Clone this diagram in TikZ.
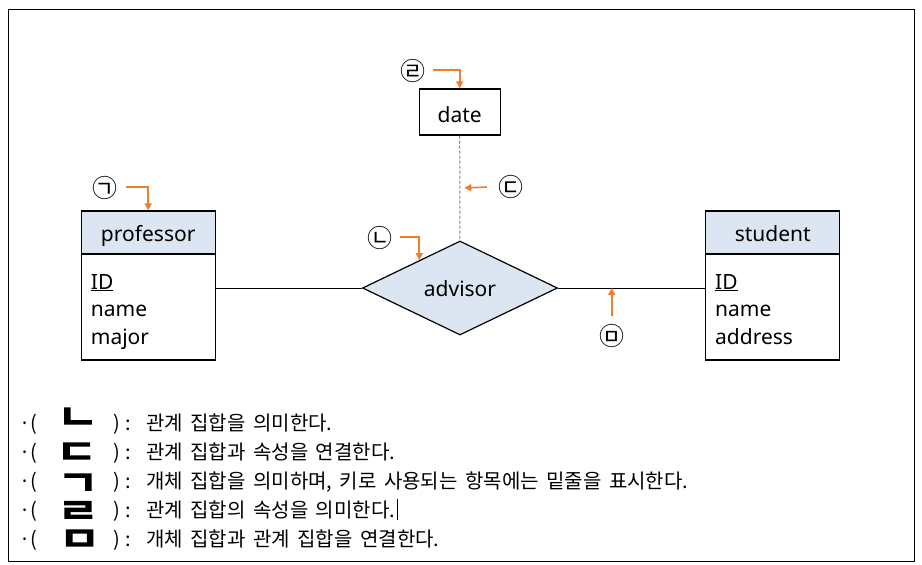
\documentclass[tikz,border=0pt]{standalone}
\usepackage{fontspec}
\usepackage{graphicx}
\setmainfont{Noto Sans}
\newfontfamily\kr{Noto Sans CJK KR}
\newfontfamily\handkr[FakeBold=7]{Noto Sans CJK KR}
\usetikzlibrary{shapes.geometric,arrows.meta,calc}
\definecolor{hdr}{HTML}{DCE6F2}
\definecolor{oran}{HTML}{ED7D31}
\definecolor{dgray}{HTML}{7F7F7F}
\newcommand{\krs}[1]{\spaceskip=7.5pt\relax #1}
\newcommand{\hw}[1]{\scalebox{1.35}[1]{#1}}
\tikzset{
  ehead/.style={draw=black, line width=1.3pt, fill=hdr, minimum width=134pt, minimum height=43pt, inner sep=0pt, text height=18pt, text depth=0pt, font=\fontsize{21}{25}\selectfont},
  ebody/.style={draw=black, line width=1.3pt, minimum width=134pt, minimum height=106pt, inner sep=0pt},
  attr/.style={anchor=base west, inner sep=0pt, font=\fontsize{21}{25}\selectfont},
  relbox/.style={diamond, draw=black, line width=1.2pt, fill=hdr, minimum width=195pt, minimum height=94pt, inner sep=0pt, text height=17.4pt, text depth=0pt, font=\fontsize{21}{25}\selectfont},
  attbox/.style={draw=black, line width=1.3pt, fill=white, minimum width=81pt, minimum height=46pt, inner sep=0pt, text height=21.4pt, text depth=0pt, font=\fontsize{21}{25}\selectfont},
  conn/.style={draw=black, line width=1pt},
  dconn/.style={draw=dgray, line width=1pt, dash pattern=on 3pt off 2pt},
  marker/.style={inner sep=0pt, minimum size=22pt, font=\kr\fontsize{25}{25}\selectfont},
  oarr/.style={draw=oran, line width=1.6pt, -{Triangle[width=7pt,length=7pt]}},
  krline/.style={anchor=base west, inner sep=0pt, font=\kr\fontsize{20}{20}\selectfont},
  answer/.style={anchor=base, inner sep=0pt, text height=21pt, text depth=-4pt, font=\handkr\fontsize{32}{32}\selectfont},
}
\begin{document}
\begin{tikzpicture}[x=1pt,y=-1pt]
\useasboundingbox (0,0) rectangle (922,565);
\draw[line width=1pt] (8,9.5) rectangle (914,561);

% entities
\node[ehead] (profh) at (148.2,232.5) {professor};
\node[ebody] (profb) at (148.2,307) {};
\node[attr] (pa1) at (90.7,289) {\underline{ID}};
\node[attr] (pa2) at (90.7,316.5) {name};
\node[attr] (pa3) at (90.7,344) {major};
\node[ehead] (studh) at (772.8,232.5) {student};
\node[ebody] (studb) at (772.8,307) {};
\node[attr] (sa1) at (715,289) {\underline{ID}};
\node[attr] (sa2) at (715,316.5) {name};
\node[attr] (sa3) at (715,344) {address};

% relationship and attribute
\node[relbox] (adv) at (460,288) {advisor};
\node[attbox] (date) at (459.7,112) {date};

% connectors
\draw[conn] (adv.west) -- (adv.west -| profb.east);
\draw[conn] (adv.east) -- (adv.east -| studb.west);
\draw[dconn] (date.south) -- (adv.north);

% markers
\node[marker] (m1) at (105,188) {㉠};
\node[marker] (m2) at (379.5,237.5) {㉡};
\node[marker] (m3) at (510.5,187) {㉢};
\node[marker] (m4) at (412.5,71) {㉣};
\node[marker] (m5) at (611.7,336) {㉤};

\coordinate (p2) at ($(adv.west)!0.585!(adv.north)$);
\coordinate (p3) at ($(date.south)!0.5!(adv.north)+(4.5,0)$);

\draw[oarr] ([xshift=8pt,yshift=1.3pt]m1.east) -| (profh.north);
\draw[oarr] ([xshift=8pt,yshift=0.5pt]m2.east) -| (p2);
\draw[oarr] ([xshift=-11pt]m3.west) -- (p3);
\draw[oarr] ([xshift=7.5pt,yshift=1pt]m4.east) -| (date.north);
\draw[oarr] ([yshift=8.5pt]m5.north) -- (m5.north |- adv.east);

% bottom list
\node[krline] (b1) at (19,430) {·(};
\node[krline] (r1) at (113,430) {)\hspace{6pt}:};
\node[krline] (t1) at (146,430) {\krs{관계 집합을 의미한다.}};
\node[answer] (a1) at (77.5,428) {\hw{ㄴ}};

\node[krline] (b2) at (19,459) {·(};
\node[krline] (r2) at (113,459) {)\hspace{6pt}:};
\node[krline] (t2) at (146,459) {\krs{관계 집합과 속성을 연결한다.}};
\node[answer] (a2) at (76.5,463) {\hw{ㄷ}};

\node[krline] (b3) at (19,488) {·(};
\node[krline] (r3) at (113,488) {)\hspace{6pt}:};
\node[krline] (t3) at (146,488) {\krs{개체 집합을 의미하며, 키로 사용되는 항목에는 밑줄을 표시한다.}};
\node[answer] (a3) at (78,494) {\hw{ㄱ}};

\node[krline] (b4) at (19,517) {·(};
\node[krline] (r4) at (113,517) {)\hspace{6pt}:};
\node[krline] (t4) at (146,517) {\krs{관계 집합의 속성을 의미한다.}};
\node[answer] (a4) at (78,522) {\hw{ㄹ}};

\node[krline] (b5) at (19,546) {·(};
\node[krline] (r5) at (113,546) {)\hspace{6pt}:};
\node[krline] (t5) at (146,546) {\krs{개체 집합과 관계 집합을 연결한다.}};
\node[answer] (a5) at (79.5,550) {\hw{ㅁ}};

\draw[line width=0.7pt] ([xshift=2.5pt,yshift=-3pt]t4.base east) -- ([xshift=2.5pt,yshift=18pt]t4.base east);
\end{tikzpicture}
\end{document}
